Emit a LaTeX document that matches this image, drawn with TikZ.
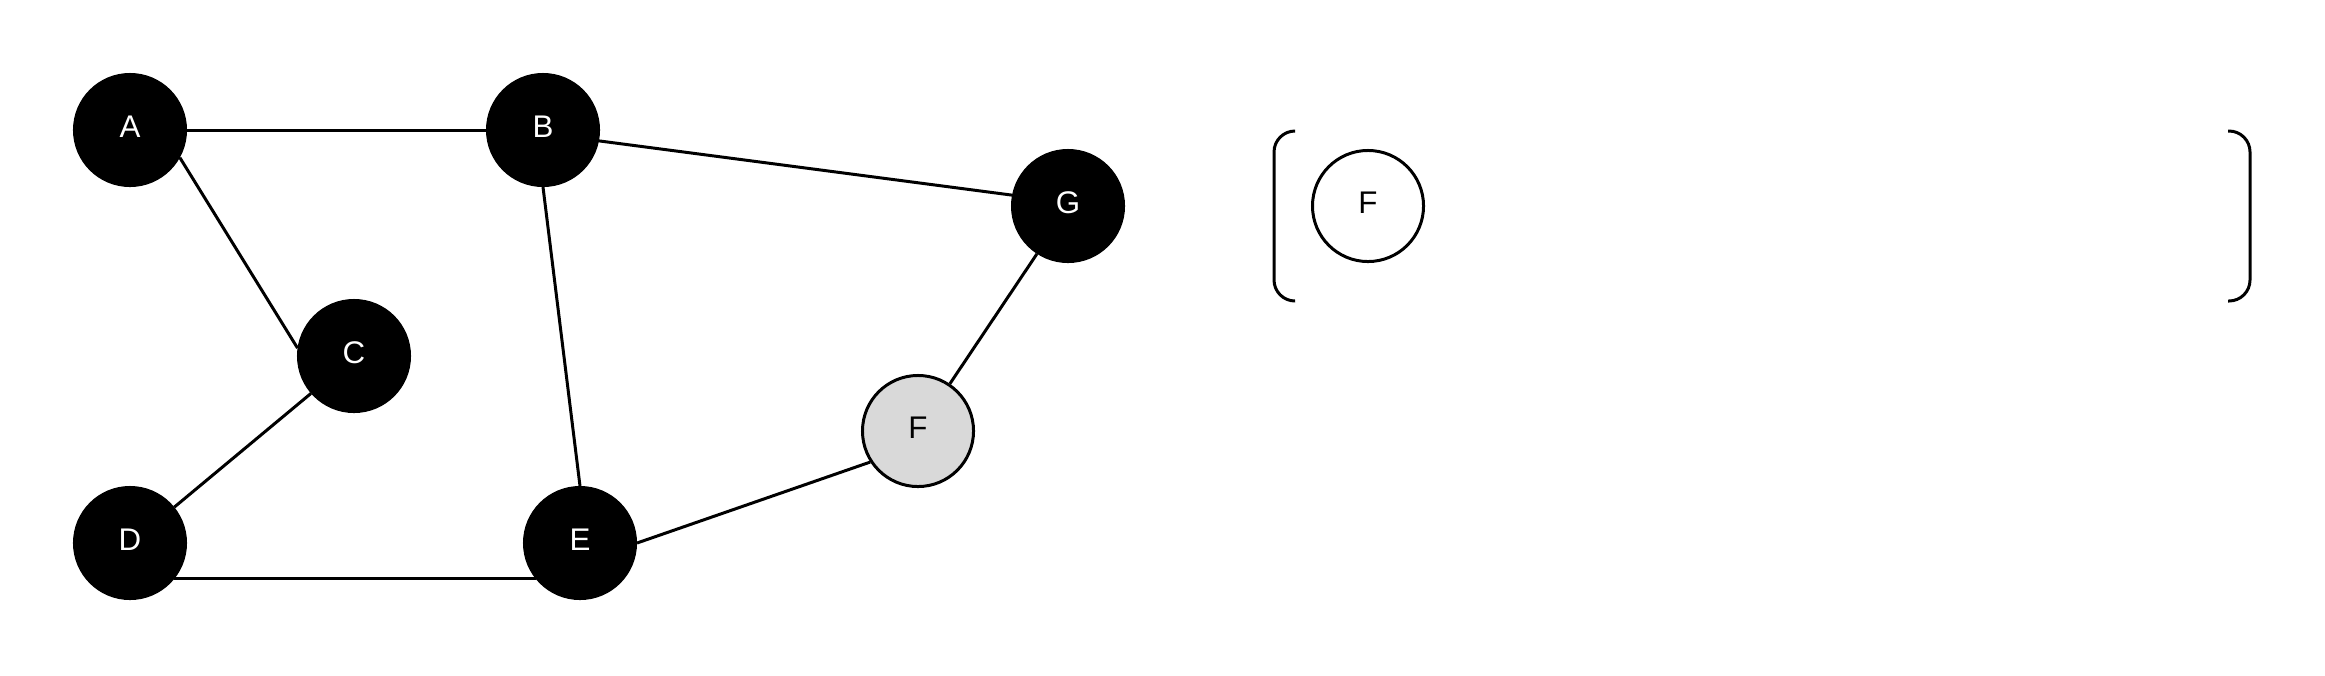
\documentclass[tikz,border=0pt]{standalone}
\usepackage{fontspec}
\setmainfont{Liberation Sans}

\begin{document}
\begin{tikzpicture}[
  x=0.01cm, y=-0.01cm,
  every node/.style={font=\fontsize{8.9}{10}\selectfont},
  vertex/.style={circle, draw, line width=0.85pt, minimum size=1.11cm,
                 inner sep=0pt, text depth=0.07cm},
  darkv/.style={vertex, fill=black, text=white},
  greyv/.style={vertex, fill=black!15},
  whitev/.style={vertex, fill=white},
  link/.style={line width=0.85pt},
  bracket/.style={line width=0.85pt, rounded corners=0.21cm},
]
  \useasboundingbox (0,0) rectangle (2325,675);

  \node[darkv] (A) at (130, 130) {A};
  \node[darkv] (B) at (543, 130) {B};
  \node[darkv] (G) at (1068, 206) {G};
  \node[darkv] (C) at (354, 356) {C};
  \node[greyv] (F) at (918, 431) {F};
  \node[darkv] (D) at (130, 543) {D};
  \node[darkv] (E) at (580, 543) {E};

  \draw[link] (A.east) -- (B.west);
  \draw[link] (A.-29) -- (C.172);
  \draw[link] (B.-11) -- (G.169);
  \draw[link] (B.south) -- (E.north);
  \draw[link] (C.221) -- (D.39);
  \draw[link] (D.-39) -- (E.-141);
  \draw[link] (E.east) -- (F.213);
  \draw[link] (G.237) -- (F.56);

  \draw[bracket] (1295, 131) -- (1274, 131) -- (1274, 301) -- (1295, 301);
  \node[whitev] (Fq) at (1368, 206) {F};
  \draw[bracket] (2228, 131) -- (2250, 131) -- (2250, 301) -- (2228, 301);
\end{tikzpicture}
\end{document}
